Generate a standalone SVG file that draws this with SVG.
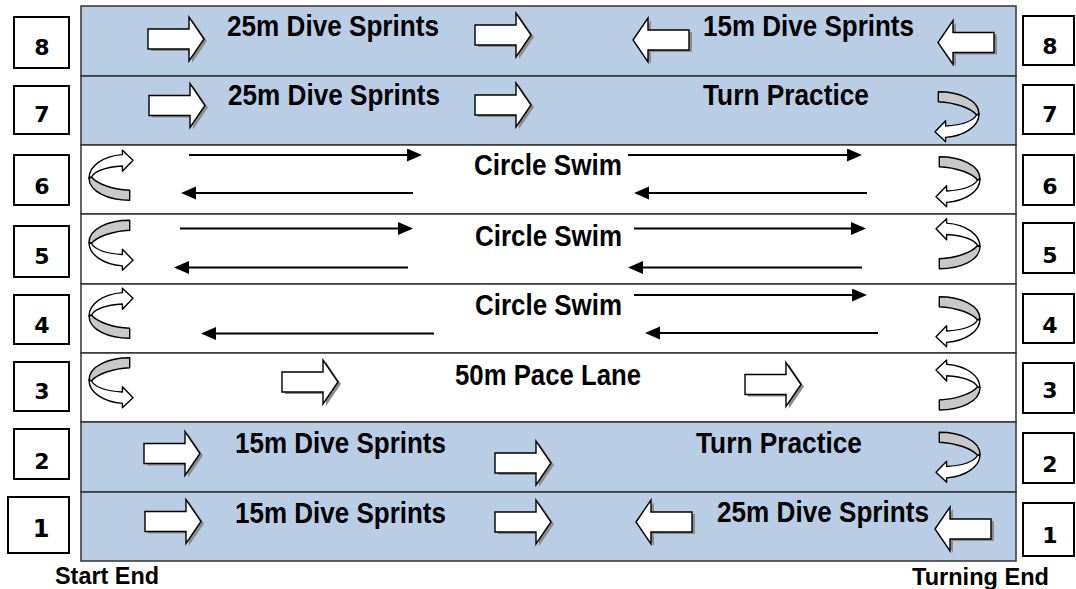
<svg xmlns="http://www.w3.org/2000/svg" xmlns:xlink="http://www.w3.org/1999/xlink" width="1076" height="589" viewBox="0 0 1076 589">
<style>
.lane-b{fill:#b9cde5;stroke:#333;stroke-width:1.5}
.lane-w{fill:#ffffff;stroke:#333;stroke-width:1.5}
.lbl{font-family:"Liberation Sans",Arial,sans-serif;font-weight:bold;font-size:29px;fill:#000}
.end{font-family:"Liberation Sans",Arial,sans-serif;font-weight:bold;font-size:24px;fill:#000}
.num{font-family:"DejaVu Sans",Verdana,sans-serif;font-weight:bold;font-size:22px;fill:#000;text-anchor:middle}
.box{fill:#fff;stroke:#000;stroke-width:2}
.ba{fill:#fff;stroke:#000;stroke-width:1.4;stroke-linejoin:miter}
.sh{fill:#8c8c8c}
.band{fill:#fff;stroke:#000;stroke-width:1.4;stroke-linejoin:round}
.rib{fill:#c8c8c8;stroke:#000;stroke-width:1.4;stroke-linejoin:round}
.ln{stroke:#000;stroke-width:1.8;fill:none;marker-end:url(#ah)}
</style>
<defs>
<marker id="ah" markerUnits="userSpaceOnUse" markerWidth="16" markerHeight="14" refX="5" refY="6.5" orient="auto">
<path d="M0,0 L15,6.5 L0,13 Z" fill="#000"/>
</marker>
<g id="barR">
<polygon class="sh" transform="translate(3,2)" points="0,-10 41,-10 41,-22 56,0 41,22 41,10 0,10"/>
<polygon class="ba" points="0,-10 41,-10 41,-22 56,0 41,22 41,10 0,10"/>
</g>
<g id="barL">
<polygon class="sh" transform="translate(3,2)" points="0,0 15,-22 15,-10 56,-10 56,10 15,10 15,22"/>
<polygon class="ba" points="0,0 15,-22 15,-10 56,-10 56,10 15,10 15,22"/>
</g>
<g id="ca">
<path class="rib" d="M0,0 C0,14 20,22.3 40.7,22.3 L40.7,12.3 C24,11.5 8,6 2.4,-1 Z"/>
<path class="band" d="M0,0 C0,-12 14,-22 33.4,-23.4 L33.4,-27.7 L44,-17.7 L33.4,-6.7 L33.4,-12 C18,-11 6,-7 2.4,-1 Z"/>
</g>
</defs>

<g id="lane8">
<rect class="lane-b" x="81" y="6" width="935" height="70"/>
<use href="#barR" x="148" y="39"/>
<use href="#barR" x="475" y="35"/>
<use href="#barL" x="633" y="40"/>
<use href="#barL" x="938" y="42.5"/>
<text class="lbl" x="227" y="36" textLength="212" lengthAdjust="spacingAndGlyphs">25m Dive Sprints</text>
<text class="lbl" x="703" y="36" textLength="211" lengthAdjust="spacingAndGlyphs">15m Dive Sprints</text>
</g>
<g id="lane7">
<rect class="lane-b" x="81" y="76" width="935" height="69"/>
<use href="#barR" x="149" y="105.5"/>
<use href="#barR" x="475" y="105"/>
<use href="#ca" transform="translate(979,114) scale(-1,-1)"/>
<text class="lbl" x="228" y="105" textLength="212" lengthAdjust="spacingAndGlyphs">25m Dive Sprints</text>
<text class="lbl" x="703" y="105" textLength="166" lengthAdjust="spacingAndGlyphs">Turn Practice</text>
</g>
<g id="lane6">
<rect class="lane-w" x="81" y="145" width="935" height="69"/>
<use href="#ca" transform="translate(89,178)"/>
<use href="#ca" transform="translate(980,179) scale(-1,-1)"/>
<text class="lbl" x="474" y="175" textLength="148" lengthAdjust="spacingAndGlyphs">Circle Swim</text>
</g>
<g id="lane5">
<rect class="lane-w" x="81" y="214" width="935" height="70"/>
<use href="#ca" transform="translate(89,242.5) scale(1,-1)"/>
<use href="#ca" transform="translate(980,246.5) scale(-1,1)"/>
<text class="lbl" x="475" y="246" textLength="147" lengthAdjust="spacingAndGlyphs">Circle Swim</text>
</g>
<g id="lane4">
<rect class="lane-w" x="81" y="284" width="935" height="69"/>
<use href="#ca" transform="translate(89,316)"/>
<use href="#ca" transform="translate(980,319) scale(-1,-1)"/>
<text class="lbl" x="475" y="315" textLength="147" lengthAdjust="spacingAndGlyphs">Circle Swim</text>
</g>
<g id="lane3">
<rect class="lane-w" x="81" y="353" width="935" height="69"/>
<use href="#ca" transform="translate(89,380) scale(1,-1)"/>
<use href="#ca" transform="translate(980,387.7) scale(-1,1)"/>
<use href="#barR" x="282" y="382"/>
<use href="#barR" x="745" y="384.5"/>
<text class="lbl" x="455" y="385" textLength="186" lengthAdjust="spacingAndGlyphs">50m Pace Lane</text>
</g>
<g id="lane2">
<rect class="lane-b" x="81" y="422" width="935" height="70"/>
<use href="#barR" x="144" y="453.5"/>
<use href="#barR" x="495" y="463"/>
<use href="#ca" transform="translate(980,454.5) scale(-1,-1)"/>
<text class="lbl" x="235" y="453" textLength="211" lengthAdjust="spacingAndGlyphs">15m Dive Sprints</text>
<text class="lbl" x="696" y="452.5" textLength="166" lengthAdjust="spacingAndGlyphs">Turn Practice</text>
</g>
<g id="lane1">
<rect class="lane-b" x="81" y="492" width="935" height="69"/>
<use href="#barR" x="145" y="521.5"/>
<use href="#barR" x="495" y="522"/>
<use href="#barL" x="636" y="522"/>
<use href="#barL" x="935" y="529"/>
<text class="lbl" x="235" y="523" textLength="211" lengthAdjust="spacingAndGlyphs">15m Dive Sprints</text>
<text class="lbl" x="717" y="521.5" textLength="212" lengthAdjust="spacingAndGlyphs">25m Dive Sprints</text>
</g>

<g id="connectors">
<line class="ln" x1="189" y1="155" x2="412" y2="155"/>
<line class="ln" x1="413" y1="193" x2="191" y2="193"/>
<line class="ln" x1="628" y1="155" x2="852" y2="155"/>
<line class="ln" x1="867" y1="193" x2="644" y2="193"/>
<line class="ln" x1="180" y1="228.5" x2="403" y2="228.5"/>
<line class="ln" x1="408" y1="267.5" x2="184" y2="267.5"/>
<line class="ln" x1="634" y1="228.5" x2="856" y2="228.5"/>
<line class="ln" x1="862" y1="267.5" x2="638" y2="267.5"/>
<line class="ln" x1="434" y1="333.5" x2="211" y2="333.5"/>
<line class="ln" x1="634" y1="295" x2="857" y2="295"/>
<line class="ln" x1="878" y1="333" x2="655" y2="333"/>
</g>

<g id="box-l8"><rect class="box" x="14" y="17" width="55" height="51"/><text class="num" x="42" y="55">8</text></g>
<g id="box-l7"><rect class="box" x="14" y="86" width="55" height="48"/><text class="num" x="42" y="122">7</text></g>
<g id="box-l6"><rect class="box" x="14" y="155" width="55" height="50"/><text class="num" x="42" y="194">6</text></g>
<g id="box-l5"><rect class="box" x="14" y="226" width="55" height="51"/><text class="num" x="42" y="264">5</text></g>
<g id="box-l4"><rect class="box" x="14" y="295" width="55" height="49"/><text class="num" x="42" y="333">4</text></g>
<g id="box-l3"><rect class="box" x="14" y="362" width="55" height="49"/><text class="num" x="42" y="399">3</text></g>
<g id="box-l2"><rect class="box" x="14" y="429" width="55" height="50"/><text class="num" x="42" y="469">2</text></g>
<g id="box-l1"><rect class="box" x="8" y="497" width="61" height="56"/><text class="num" x="41" y="537" style="font-size:24px">1</text></g>

<g id="box-r8"><rect class="box" x="1023" y="16" width="51" height="49"/><text class="num" x="1050" y="54">8</text></g>
<g id="box-r7"><rect class="box" x="1023" y="85" width="51" height="49"/><text class="num" x="1050" y="122">7</text></g>
<g id="box-r6"><rect class="box" x="1023" y="155" width="51" height="50"/><text class="num" x="1050" y="194">6</text></g>
<g id="box-r5"><rect class="box" x="1023" y="223" width="51" height="50"/><text class="num" x="1050" y="263">5</text></g>
<g id="box-r4"><rect class="box" x="1023" y="294" width="51" height="49"/><text class="num" x="1050" y="333">4</text></g>
<g id="box-r3"><rect class="box" x="1023" y="363" width="51" height="50"/><text class="num" x="1050" y="398">3</text></g>
<g id="box-r2"><rect class="box" x="1023" y="433" width="51" height="50"/><text class="num" x="1050" y="472">2</text></g>
<g id="box-r1"><rect class="box" x="1023" y="503" width="51" height="53"/><text class="num" x="1050" y="543">1</text></g>

<g id="labels">
<text class="end" x="55" y="584" textLength="104" lengthAdjust="spacingAndGlyphs">Start End</text>
<text class="end" x="912" y="585" textLength="137" lengthAdjust="spacingAndGlyphs">Turning End</text>
</g>
</svg>
